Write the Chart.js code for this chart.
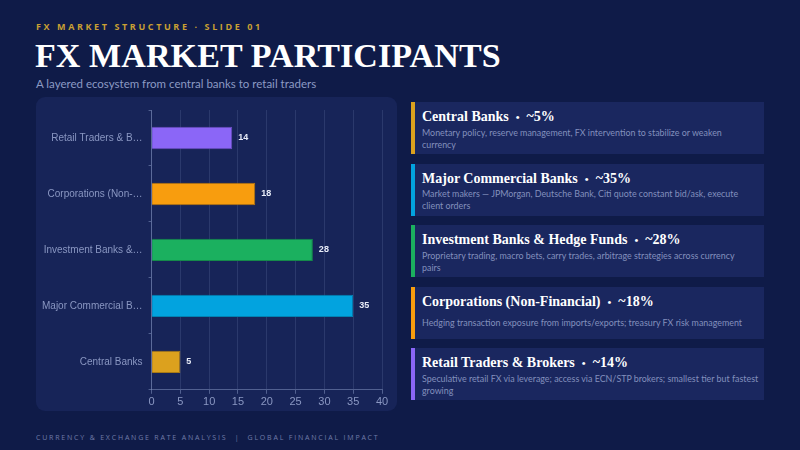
<!DOCTYPE html>
<html>
<head>
<meta charset="utf-8">
<script src="https://cdn.jsdelivr.net/npm/chart.js@4"></script>
<style>
  html, body { margin:0; padding:0; }
  body { width:800px; height:450px; background:#0f1b48; position:relative; overflow:hidden; font-family: Lato, "Open Sans", sans-serif; }
  .kicker { position:absolute; left:36px; top:20px; font-size:9px; letter-spacing:2.6px; color:#c9a033; font-weight:700; font-family: "Open Sans", sans-serif; }
  .title { position:absolute; left:35px; top:37px; font-size:34px; font-weight:700; color:#ffffff; font-family: "Liberation Serif", "DejaVu Serif", serif; letter-spacing:0.1px; }
  .subtitle { position:absolute; left:36px; top:77px; font-size:11.5px; color:#8c9ac4; }
  .panel { position:absolute; left:36px; top:97px; width:361px; height:314px; background:#172458; border-radius:9px; }
  .panel canvas { position:absolute; left:0; top:0; }
  .cards { position:absolute; left:411px; top:102px; width:353px; }
  .card { position:relative; height:52px; margin-bottom:9.5px; background:#1a275f; box-sizing:border-box; padding:6px 4px 3px 11px; display:flex; flex-direction:column; }
  .card .bar { position:absolute; left:0; top:0; width:4px; height:100%; }
  .card .h { font-family: "Liberation Serif", "DejaVu Serif", serif; font-weight:700; font-size:14px; color:#ffffff; line-height:17px; }
  .card .h .dot { margin:0 7px; font-size:11px; }
  .card .dwrap { flex:1; display:flex; align-items:center; }
  .card .d { font-size:8.9px; color:#8390bd; line-height:12px; white-space:pre-line; }
  .footer { position:absolute; left:36px; top:433px; font-size:7px; letter-spacing:1.8px; color:#6f7ca8; font-family: "Open Sans", sans-serif; }
</style>
</head>
<body>
<div class="kicker">FX MARKET STRUCTURE · SLIDE 01</div>
<div class="title">FX MARKET PARTICIPANTS</div>
<div class="subtitle">A layered ecosystem from central banks to retail traders</div>
<div class="panel"><canvas id="c" width="361" height="314"></canvas></div>
<div class="cards" id="cards"></div>
<div class="footer">CURRENCY &amp; EXCHANGE RATE ANALYSIS &nbsp;| &nbsp;GLOBAL FINANCIAL IMPACT</div>
<script>
const categories = ["Retail Traders & Brokers", "Corporations (Non-Financial)", "Investment Banks & Hedge Funds", "Major Commercial Banks", "Central Banks"];
const shares = [14, 18, 28, 35, 5];
const barColors = ["#8b66f7", "#f89d0e", "#1bb05f", "#02a3df", "#dca11e"];
const borderColors = ["#6b4fc0", "#b8760c", "#158a4a", "#0282b2", "#a87a16"];
const xTicks = [0, 5, 10, 15, 20, 25, 30, 35, 40];

const cardOrder = [4, 3, 2, 1, 0];
const descriptions = {
  "Central Banks": "Monetary policy, reserve management, FX intervention to stabilize or weaken\ncurrency",
  "Major Commercial Banks": "Market makers — JPMorgan, Deutsche Bank, Citi quote constant bid/ask, execute\nclient orders",
  "Investment Banks & Hedge Funds": "Proprietary trading, macro bets, carry trades, arbitrage strategies across currency\npairs",
  "Corporations (Non-Financial)": "Hedging transaction exposure from imports/exports; treasury FX risk management",
  "Retail Traders & Brokers": "Speculative retail FX via leverage; access via ECN/STP brokers; smallest tier but fastest\ngrowing"
};

const cardsEl = document.getElementById('cards');
cardOrder.forEach(i => {
  const name = categories[i];
  const c = document.createElement('div');
  c.className = 'card';
  c.innerHTML = '<div class="bar" style="background:' + barColors[i] + '"></div>' +
    '<div class="h">' + name.replace('&', '&amp;') + '<span class="dot">•</span>~' + shares[i] + '%</div>' +
    '<div class="dwrap"><div class="d"></div></div>';
  c.querySelector('.d').textContent = descriptions[name];
  cardsEl.appendChild(c);
});

const valueLabels = {
  id: 'valueLabels',
  afterDatasetsDraw(chart) {
    const ctx = chart.ctx;
    const meta = chart.getDatasetMeta(0);
    ctx.save();
    ctx.font = 'bold 9px "Liberation Sans", Arial, sans-serif';
    ctx.fillStyle = '#e8ecf8';
    ctx.textBaseline = 'middle';
    ctx.textAlign = 'left';
    meta.data.forEach((el, i) => {
      ctx.fillText(String(chart.data.datasets[0].data[i]), el.x + 6, el.y);
    });
    ctx.restore();
  }
};

new Chart(document.getElementById('c'), {
  type: 'bar',
  data: {
    labels: categories,
    datasets: [{
      data: shares,
      backgroundColor: barColors,
      borderColor: borderColors,
      borderWidth: 1,
      borderSkipped: 'left',
      barPercentage: 0.4,
      categoryPercentage: 1.0
    }]
  },
  options: {
    indexAxis: 'y',
    responsive: false,
    animation: false,
    devicePixelRatio: 1,
    layout: { padding: { left: 0, right: 15, top: 13, bottom: 0 } },
    plugins: { legend: { display: false }, tooltip: { enabled: false } },
    scales: {
      x: {
        min: 0, max: 40,
        afterBuildTicks(axis) { axis.ticks = xTicks.map(v => ({ value: v })); },
        ticks: { color: '#8a97c2', font: { family: '"Liberation Sans", Arial, sans-serif', size: 11 }, padding: 2 },
        grid: { color: 'rgba(140,155,200,0.18)', tickLength: 4, tickColor: 'rgba(140,155,200,0.5)' },
        border: { color: 'rgba(140,155,200,0.5)' }
      },
      y: {
        ticks: {
          color: '#8a97c2',
          font: { family: '"Liberation Sans", Arial, sans-serif', size: 10 },
          padding: 6,
          callback(v) { const s = this.getLabelForValue(v); return s.length > 18 ? s.slice(0, 18) + '…' : s; }
        },
        grid: { drawOnChartArea: false, tickLength: 3, color: 'rgba(140,155,200,0.5)' },
        border: { color: 'rgba(140,155,200,0.5)' }
      }
    }
  },
  plugins: [valueLabels]
});
</script>
</body>
</html>
